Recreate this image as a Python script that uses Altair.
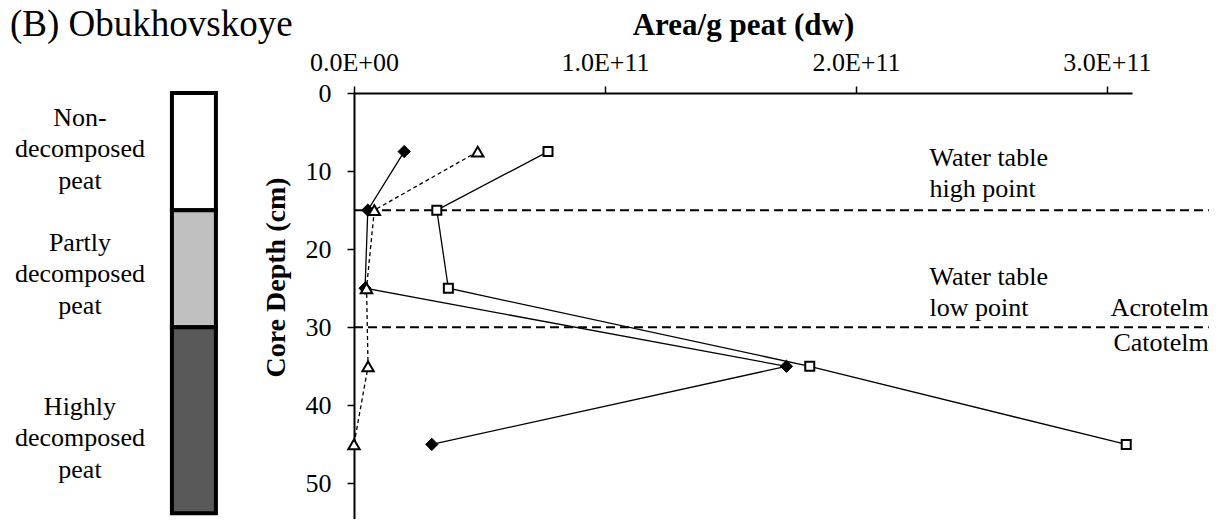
import altair as alt
import pandas as pd

FONT = "Liberation Serif"

# ---------------- data ----------------
depth_cm = [7.5, 15, 25, 35, 45]
diamond_vals = [2.0e10, 5.5e9, 4.4e9, 1.723e11, 3.1e10]
triangle_vals = [4.93e10, 8.1e9, 5.0e9, 5.6e9, 0.0]
square_vals = [7.73e10, 3.3e10, 3.76e10, 1.816e11, 3.077e11]

x_ticks = [0, 1e11, 2e11, 3e11]
y_ticks = [0, 10, 20, 30, 40, 50]

water_table_depths = [15, 30]

peat_labels = ["Non-\ndecomposed\npeat", "Partly\ndecomposed\npeat", "Highly\ndecomposed\npeat"]
peat_top = [0, 15, 30]
peat_bottom = [15, 30, 53.8]
peat_fill = ["#ffffff", "#c0c0c0", "#595959"]

# ---------------- layout constants ----------------
X_MAX = 3.1e11
X_LINE_END = 3.406e11
Y_MAX = 54.55
W = 778
H = 426
LEFT_W = 220

series_df = pd.DataFrame(
    [{"series": "diamond", "depth": d, "value": v} for d, v in zip(depth_cm, diamond_vals)]
    + [{"series": "triangle", "depth": d, "value": v} for d, v in zip(depth_cm, triangle_vals)]
    + [{"series": "square", "depth": d, "value": v} for d, v in zip(depth_cm, square_vals)]
)

xscale = alt.Scale(domain=[0, X_MAX], nice=False, zero=False)
yscale = alt.Scale(domain=[0, Y_MAX], reverse=True, nice=False, zero=False)

x_axis = alt.Axis(
    orient="top",
    values=x_ticks,
    labelExpr="datum.value == 0 ? '0.0E+00' : upper(format(datum.value, '.1e'))",
    title="Area/g peat (dw)",
    titleFontWeight="bold",
    titleFontSize=31,
    titlePadding=8,
    labelPadding=11,
    labelFlush=False,
    labelOverlap=False,
    grid=False,
)
y_axis = alt.Axis(
    values=y_ticks,
    title="Core Depth (cm)",
    titleFontWeight="bold",
    titleFontSize=28,
    titleAngle=270,
    titleX=-78,
    titleY=184,
    titleAlign="center",
    titleBaseline="middle",
    labelPadding=16,
    grid=False,
)

X = alt.X("value:Q", scale=xscale, axis=x_axis)
Y = alt.Y("depth:Q", scale=yscale, axis=y_axis)

# reference water-table lines
ref_df = pd.DataFrame({"depth": water_table_depths, "x0": [0.0] * 2, "x1": [X_LINE_END] * 2})
ref_rules = alt.Chart(ref_df).mark_rule(color="black", strokeWidth=2, strokeDash=[9, 5], clip=False).encode(
    x=alt.X("x0:Q", scale=xscale, axis=x_axis), x2="x1:Q", y=alt.Y("depth:Q", scale=yscale, axis=y_axis)
)

solid_df = series_df[series_df["series"] != "triangle"]
tri_df = series_df[series_df["series"] == "triangle"]

line_solid = alt.Chart(solid_df).mark_line(color="black", strokeWidth=1.3).encode(
    x=X, y=Y, detail="series:N", order="depth:Q"
)
line_dash = alt.Chart(tri_df).mark_line(color="black", strokeWidth=1.3, strokeDash=[4, 3]).encode(
    x=X, y=Y, order="depth:Q"
)

pts_diamond = alt.Chart(series_df[series_df["series"] == "diamond"]).mark_point(
    shape="diamond", filled=True, fill="black", stroke="black", strokeWidth=1, size=150, opacity=1
).encode(x=X, y=Y)
pts_tri = alt.Chart(tri_df).mark_point(
    shape="triangle-up", filled=True, fill="white", stroke="black", strokeWidth=2, size=130, opacity=1
).encode(x=X, y=Y)
pts_square = alt.Chart(series_df[series_df["series"] == "square"]).mark_point(
    shape="square", filled=True, fill="white", stroke="black", strokeWidth=2, size=81, opacity=1
).encode(x=X, y=Y)

ann_df = pd.DataFrame(
    {
        "text": ["Water table", "high point", "Water table", "low point", "Acrotelm", "Catotelm"],
        "x": [2.293e11, 2.293e11, 2.293e11, 2.293e11, X_LINE_END, X_LINE_END],
        "depth": [9.35, 13.3, 24.6, 28.6, 28.6, 33.1],
        "side": ["left", "left", "left", "left", "right", "right"],
    }
)
ann_left = alt.Chart(ann_df[ann_df["side"] == "left"]).mark_text(
    align="left", baseline="alphabetic", font=FONT, fontSize=26, color="black"
).encode(x=alt.X("x:Q", scale=xscale, axis=x_axis), y=alt.Y("depth:Q", scale=yscale, axis=y_axis), text="text:N")
ann_right = alt.Chart(ann_df[ann_df["side"] == "right"]).mark_text(
    align="right", baseline="alphabetic", font=FONT, fontSize=26, color="black"
).encode(x=alt.X("x:Q", scale=xscale, axis=x_axis), y=alt.Y("depth:Q", scale=yscale, axis=y_axis), text="text:N")

right = alt.layer(
    ref_rules, line_solid, line_dash, pts_diamond, pts_tri, pts_square, ann_left, ann_right
).properties(width=W, height=H)

# ---------------- left schematic column ----------------
lx = alt.Scale(domain=[0, 1], nice=False, zero=False)
peat_df = pd.DataFrame(
    {
        "label": peat_labels,
        "top": peat_top,
        "bottom": peat_bottom,
        "fill": peat_fill,
        "x0": [0.736] * 3,
        "x1": [0.936] * 3,
        "lx": [0.318] * 3,
        "ly": [3.2, 19.2, 40.2],
    }
)
col_rect = alt.Chart(peat_df).mark_rect(stroke="black", strokeWidth=4).encode(
    x=alt.X("x0:Q", scale=lx, axis=None),
    x2="x1:Q",
    y=alt.Y("top:Q", scale=yscale, axis=None),
    y2="bottom:Q",
    fill=alt.Fill("fill:N", scale=None),
)
col_text = alt.Chart(peat_df).mark_text(
    align="center", baseline="middle", lineBreak="\n", lineHeight=31.5, font=FONT, fontSize=26, color="black"
).encode(
    x=alt.X("lx:Q", scale=lx, axis=None),
    y=alt.Y("ly:Q", scale=yscale, axis=None),
    text="label:N",
)
title_df = pd.DataFrame({"t": ["(B) Obukhovskoye"], "x": [0.0], "y": [-7.3]})
title_text = alt.Chart(title_df).mark_text(
    align="left", baseline="alphabetic", font=FONT, fontSize=37, color="black"
).encode(
    x=alt.X("x:Q", scale=lx, axis=None),
    y=alt.Y("y:Q", scale=yscale, axis=None),
    text="t:N",
)
left = alt.layer(col_rect, col_text, title_text).properties(width=LEFT_W, height=H)

chart = (
    alt.hconcat(left, right, spacing=124, bounds="flush")
    .resolve_scale(x="independent", y="independent")
    .properties(padding={"left": 2, "top": -3, "right": 0, "bottom": 0}, background="white")
    .configure_view(stroke=None)
    .configure_axis(
        domainColor="black",
        domainWidth=2,
        tickColor="black",
        tickWidth=1.5,
        tickSize=7,
        grid=False,
        labelFont=FONT,
        labelFontSize=26,
        labelColor="black",
        titleFont=FONT,
        titleColor="black",
    )
)

chart.save("out.html", embed_options={"renderer": "svg", "actions": False})
